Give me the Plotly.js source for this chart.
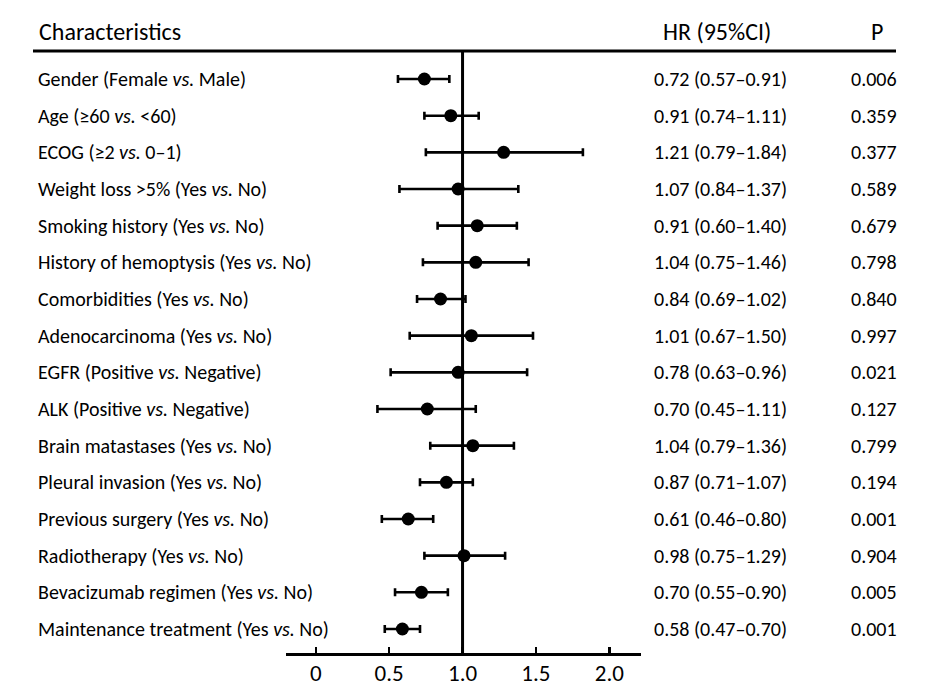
<!DOCTYPE html>
<html>
<head>
<meta charset="utf-8">
<script src="https://cdn.plot.ly/plotly-3.0.1.min.js"></script>
<style>html,body{margin:0;padding:0;background:#fff;}#chart{width:933px;height:699px;}</style>
</head>
<body>
<div id="chart"></div>
<script>
const categories = [
  "Gender (Female <i>vs.</i> Male)",
  "Age (≥60 <i>vs.</i> <60)",
  "ECOG (≥2 <i>vs.</i> 0–1)",
  "Weight loss >5% (Yes <i>vs.</i> No)",
  "Smoking history (Yes <i>vs.</i> No)",
  "History of hemoptysis (Yes <i>vs.</i> No)",
  "Comorbidities (Yes <i>vs.</i> No)",
  "Adenocarcinoma (Yes <i>vs.</i> No)",
  "EGFR (Positive <i>vs.</i> Negative)",
  "ALK (Positive <i>vs.</i> Negative)",
  "Brain matastases (Yes <i>vs.</i> No)",
  "Pleural invasion (Yes <i>vs.</i> No)",
  "Previous surgery (Yes <i>vs.</i> No)",
  "Radiotherapy (Yes <i>vs.</i> No)",
  "Bevacizumab regimen (Yes <i>vs.</i> No)",
  "Maintenance treatment (Yes <i>vs.</i> No)"
];
// plotted point estimates and CI bounds (as drawn in the figure)
const hrPoint = [0.74, 0.92, 1.28, 0.97, 1.10, 1.09, 0.85, 1.06, 0.97, 0.76, 1.07, 0.89, 0.63, 1.01, 0.72, 0.59];
const ciLow   = [0.56, 0.74, 0.75, 0.57, 0.83, 0.73, 0.69, 0.64, 0.51, 0.42, 0.78, 0.71, 0.45, 0.74, 0.54, 0.47];
const ciHigh  = [0.91, 1.11, 1.82, 1.38, 1.37, 1.45, 1.02, 1.48, 1.44, 1.09, 1.35, 1.07, 0.80, 1.29, 0.90, 0.71];
const hrText = ["0.72 (0.57–0.91)","0.91 (0.74–1.11)","1.21 (0.79–1.84)","1.07 (0.84–1.37)",
  "0.91 (0.60–1.40)","1.04 (0.75–1.46)","0.84 (0.69–1.02)","1.01 (0.67–1.50)",
  "0.78 (0.63–0.96)","0.70 (0.45–1.11)","1.04 (0.79–1.36)","0.87 (0.71–1.07)",
  "0.61 (0.46–0.80)","0.98 (0.75–1.29)","0.70 (0.55–0.90)","0.58 (0.47–0.70)"];
const pText = ["0.006","0.359","0.377","0.589","0.679","0.798","0.840","0.997",
  "0.021","0.127","0.799","0.194","0.001","0.904","0.005","0.001"];
const tickVals = [0, 0.5, 1.0, 1.5, 2.0];
const tickLabels = ["0", "0.5", "1.0", "1.5", "2.0"];

const FONT = "Carlito, Calibri, Lato, 'Open Sans', sans-serif";
const W = 933;

const trace = {
  type: "scatter", mode: "markers",
  x: hrPoint, y: categories,
  marker: {color: "#000", size: 13},
  error_x: {
    type: "data", symmetric: false,
    array: hrPoint.map((v, i) => ciHigh[i] - v),
    arrayminus: hrPoint.map((v, i) => v - ciLow[i]),
    color: "#000", thickness: 2.6, width: 4
  },
  hoverinfo: "skip", cliponaxis: false
};

const annotations = [];
categories.forEach((c, i) => {
  annotations.push({xref: "paper", yref: "y", x: 36 / W, y: c, text: c, showarrow: false,
    xanchor: "left", yanchor: "middle", font: {family: FONT, size: 20, color: "#000"}});
  annotations.push({xref: "paper", yref: "y", x: 652 / W, y: c, text: hrText[i], showarrow: false,
    xanchor: "left", yanchor: "middle", font: {family: FONT, size: 20, color: "#000"}});
  annotations.push({xref: "paper", yref: "y", x: 849 / W, y: c, text: pText[i], showarrow: false,
    xanchor: "left", yanchor: "middle", font: {family: FONT, size: 20, color: "#000"}});
});
const headY = 1 + (51 - 31) / 602;
annotations.push({xref: "paper", yref: "paper", x: 37 / W, y: headY, text: "Characteristics", showarrow: false,
  xanchor: "left", yanchor: "middle", font: {family: FONT, size: 24, color: "#000"}});
annotations.push({xref: "paper", yref: "paper", x: 661 / W, y: headY, text: "HR (95%CI)", showarrow: false,
  xanchor: "left", yanchor: "middle", font: {family: FONT, size: 24, color: "#000"}});
annotations.push({xref: "paper", yref: "paper", x: 877 / W, y: headY, text: "P", showarrow: false,
  xanchor: "center", yanchor: "middle", font: {family: FONT, size: 24, color: "#000"}});

const layout = {
  width: 933, height: 699,
  margin: {l: 0, r: 0, t: 51, b: 46, pad: 0},
  paper_bgcolor: "#fff", plot_bgcolor: "#fff",
  showlegend: false,
  xaxis: {
    domain: [286 / W, 641 / W],
    range: [-0.203, 2.216],
    tickmode: "array", tickvals: tickVals, ticktext: tickLabels,
    ticks: "inside", ticklen: 6, tickwidth: 2.5, tickcolor: "#000",
    showline: true, linewidth: 3, linecolor: "#000",
    showgrid: false, zeroline: false,
    ticklabelstandoff: -3,
    tickfont: {family: FONT, size: 23, color: "#000"},
    fixedrange: true
  },
  yaxis: {
    type: "category",
    range: [15.655, -0.764],
    showticklabels: false, showgrid: false, zeroline: false, showline: false, ticks: "",
    fixedrange: true
  },
  shapes: [
    {type: "line", xref: "paper", yref: "paper", x0: 33 / W, x1: 896 / W, y0: 1.0, y1: 1.0,
      line: {color: "#000", width: 3}},
    {type: "line", xref: "x", yref: "paper", x0: 1, x1: 1, y0: 0, y1: 1,
      line: {color: "#000", width: 3}, layer: "below"}
  ],
  annotations: annotations
};

Plotly.newPlot("chart", [trace], layout, {displayModeBar: false, staticPlot: true});
</script>
</body>
</html>
